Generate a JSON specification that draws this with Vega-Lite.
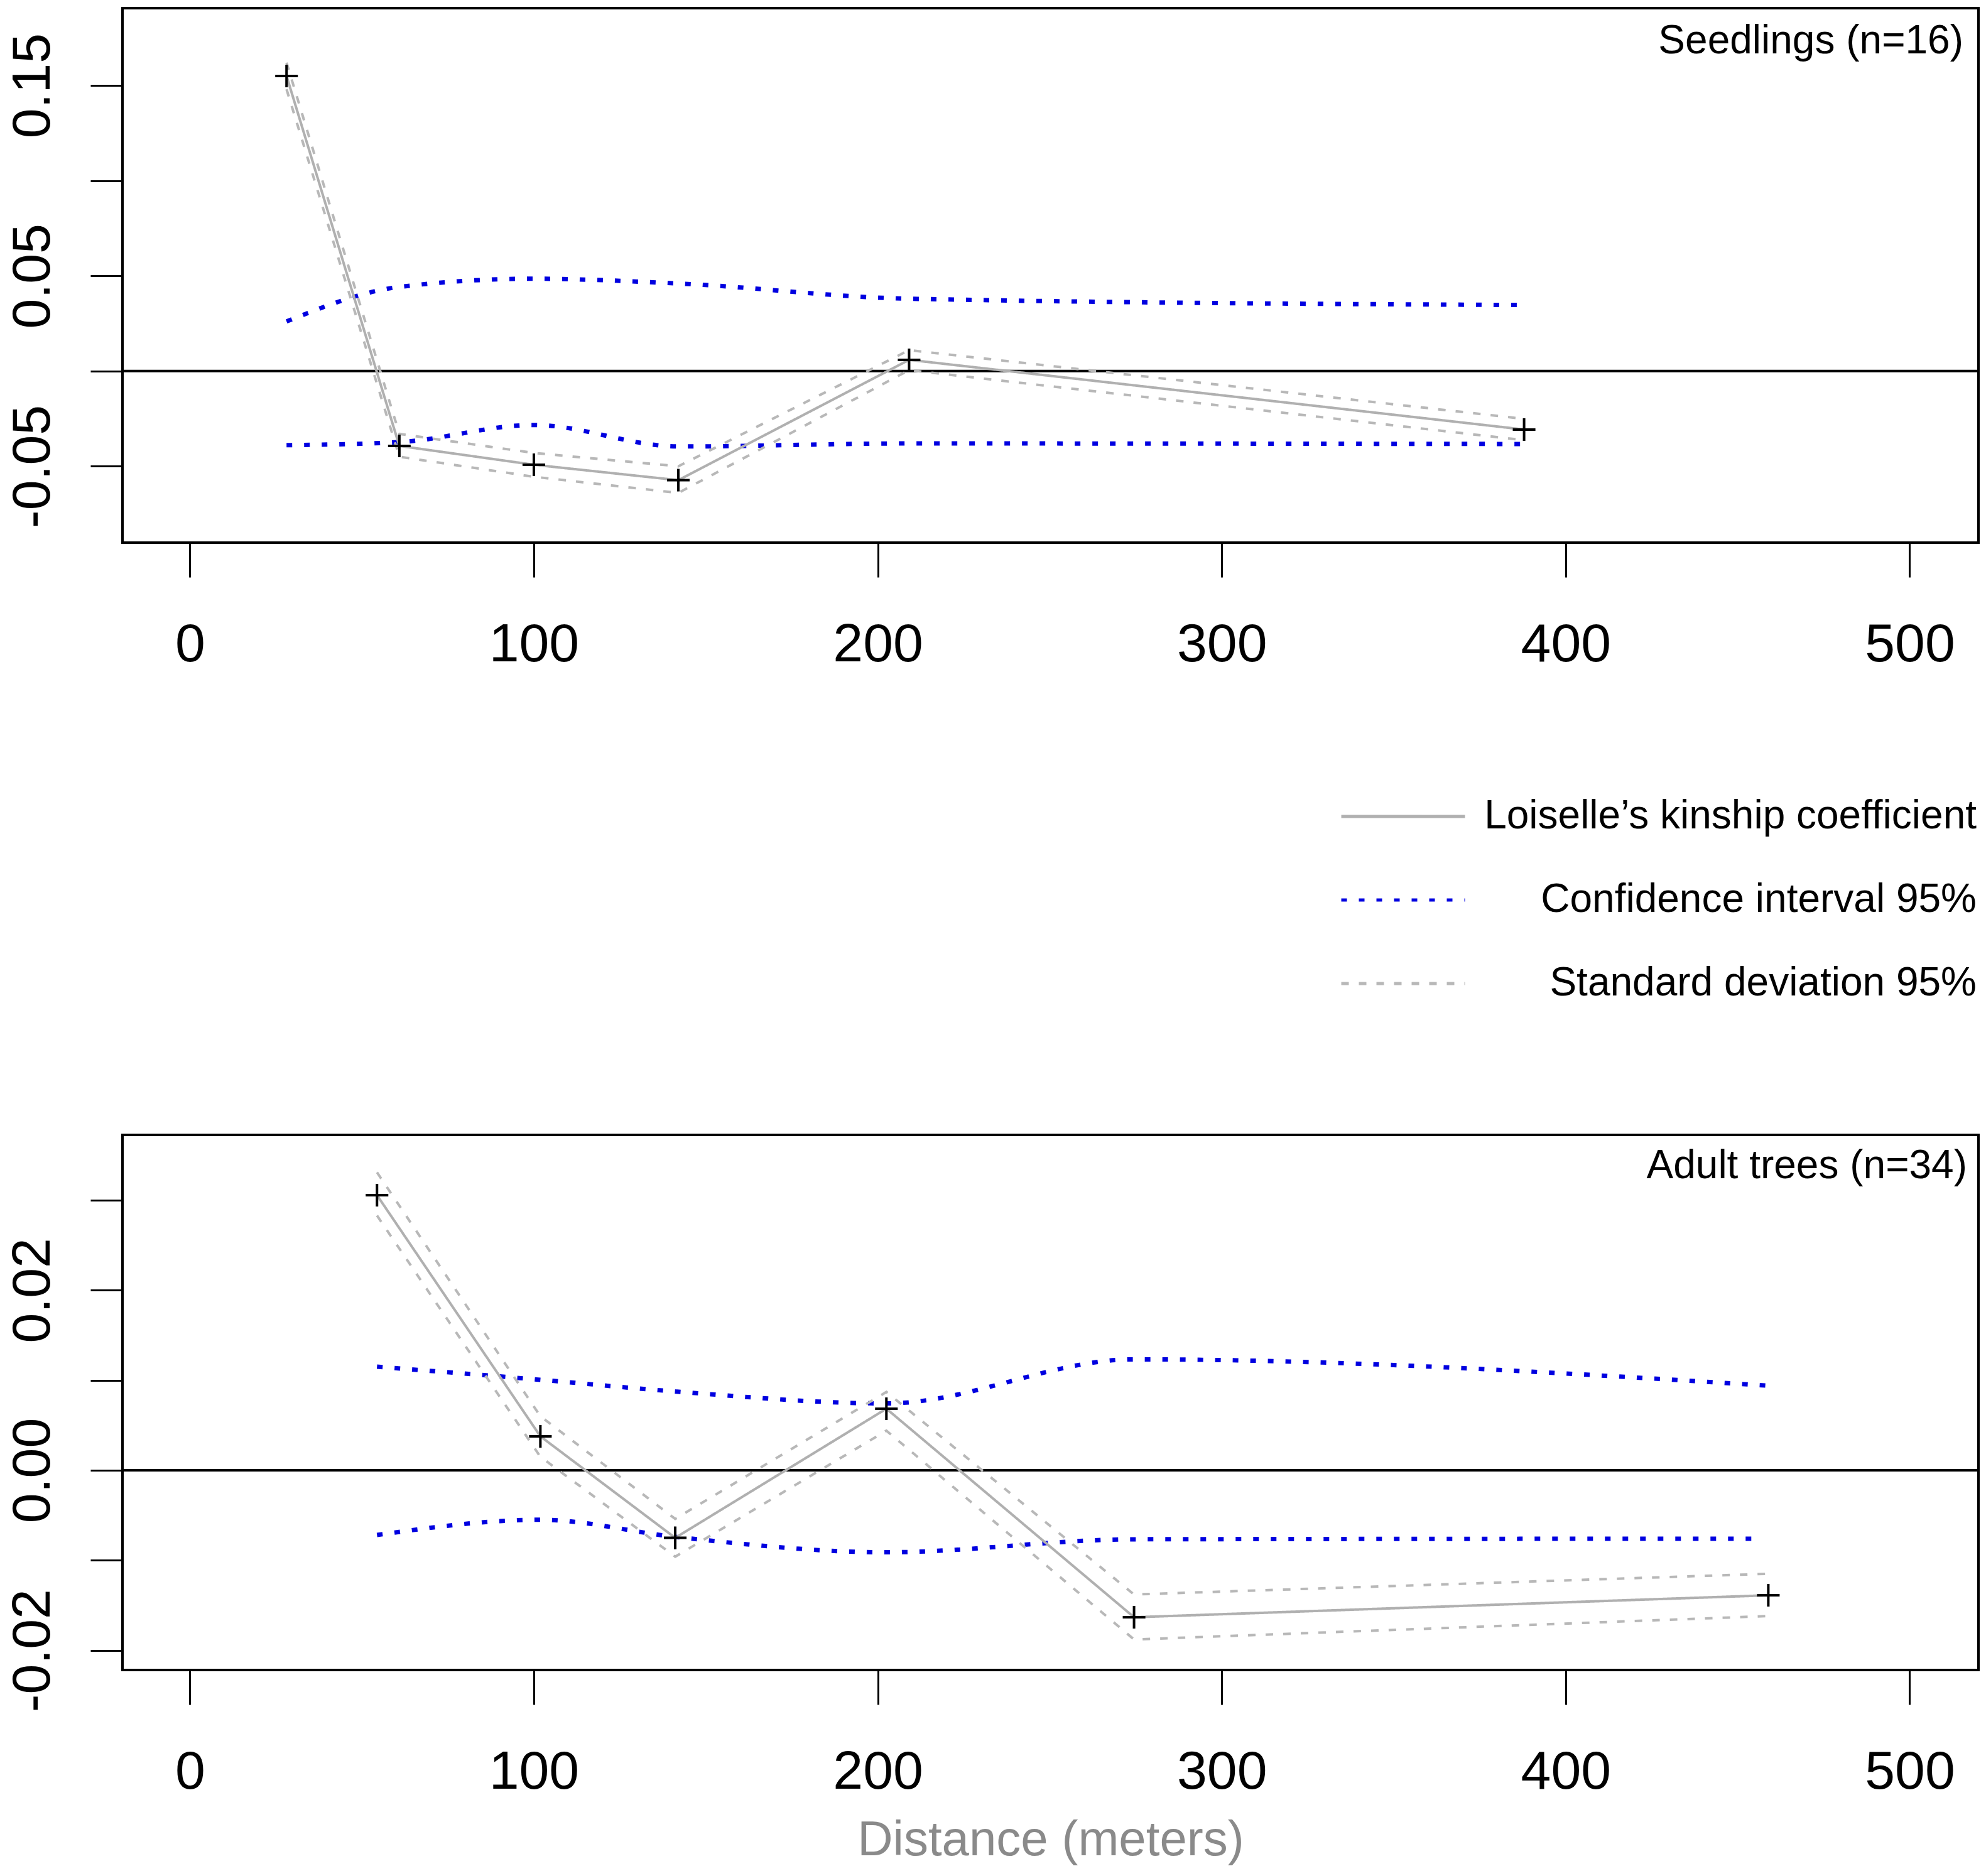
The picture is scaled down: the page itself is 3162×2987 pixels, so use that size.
{
  "$schema": "https://vega.github.io/schema/vega-lite/v6.json",
  "padding": {"left": 6, "top": 11, "right": 0, "bottom": 0},
  "background": "white",
  "config": {
    "font": "Liberation Sans",
    "view": {"stroke": "black", "strokeWidth": 4},
    "axis": {"grid": false, "domain": false, "tickColor": "black", "tickWidth": 3, "labelColor": "black", "labelFont": "Liberation Sans", "labelFontSize": 86, "titleFont": "Liberation Sans", "labelOverlap": false, "labelFlush": false, "labelLimit": 0},
    "axisX": {"tickSize": 55, "labelBaseline": "alphabetic", "labelPadding": 133, "labelAngle": 0},
    "axisY": {"tickSize": 51, "labelAngle": 270, "labelAlign": "center", "labelBaseline": "alphabetic", "labelPadding": 66}
  },
  "data": {"values": [
    {"panel": "S", "series": "Loiselle’s kinship coefficient", "line": "main", "d": 28.1, "v": 0.155},
    {"panel": "S", "series": "Loiselle’s kinship coefficient", "line": "main", "d": 60.9, "v": -0.0393},
    {"panel": "S", "series": "Loiselle’s kinship coefficient", "line": "main", "d": 100.0, "v": -0.0492},
    {"panel": "S", "series": "Loiselle’s kinship coefficient", "line": "main", "d": 142.0, "v": -0.0573},
    {"panel": "S", "series": "Loiselle’s kinship coefficient", "line": "main", "d": 209.1, "v": 0.0059},
    {"panel": "S", "series": "Loiselle’s kinship coefficient", "line": "main", "d": 387.9, "v": -0.0307},
    {"panel": "S", "series": "Standard deviation 95%", "line": "sdu", "d": 28.1, "v": 0.162},
    {"panel": "S", "series": "Standard deviation 95%", "line": "sdu", "d": 60.9, "v": -0.0330},
    {"panel": "S", "series": "Standard deviation 95%", "line": "sdu", "d": 100.0, "v": -0.0430},
    {"panel": "S", "series": "Standard deviation 95%", "line": "sdu", "d": 142.0, "v": -0.0500},
    {"panel": "S", "series": "Standard deviation 95%", "line": "sdu", "d": 209.1, "v": 0.0110},
    {"panel": "S", "series": "Standard deviation 95%", "line": "sdu", "d": 387.9, "v": -0.0251},
    {"panel": "S", "series": "Standard deviation 95%", "line": "sdl", "d": 28.1, "v": 0.148},
    {"panel": "S", "series": "Standard deviation 95%", "line": "sdl", "d": 60.9, "v": -0.0450},
    {"panel": "S", "series": "Standard deviation 95%", "line": "sdl", "d": 100.0, "v": -0.0555},
    {"panel": "S", "series": "Standard deviation 95%", "line": "sdl", "d": 142.0, "v": -0.0640},
    {"panel": "S", "series": "Standard deviation 95%", "line": "sdl", "d": 209.1, "v": 0.0005},
    {"panel": "S", "series": "Standard deviation 95%", "line": "sdl", "d": 387.9, "v": -0.0363},
    {"panel": "S", "series": "Confidence interval 95%", "line": "ciu", "d": 28.1, "v": 0.0261},
    {"panel": "S", "series": "Confidence interval 95%", "line": "ciu", "d": 60.9, "v": 0.0442},
    {"panel": "S", "series": "Confidence interval 95%", "line": "ciu", "d": 100.0, "v": 0.0485},
    {"panel": "S", "series": "Confidence interval 95%", "line": "ciu", "d": 142.0, "v": 0.0460},
    {"panel": "S", "series": "Confidence interval 95%", "line": "ciu", "d": 209.1, "v": 0.0380},
    {"panel": "S", "series": "Confidence interval 95%", "line": "ciu", "d": 387.9, "v": 0.0347},
    {"panel": "S", "series": "Confidence interval 95%", "line": "cil", "d": 28.1, "v": -0.0389},
    {"panel": "S", "series": "Confidence interval 95%", "line": "cil", "d": 60.9, "v": -0.0373},
    {"panel": "S", "series": "Confidence interval 95%", "line": "cil", "d": 100.0, "v": -0.0283},
    {"panel": "S", "series": "Confidence interval 95%", "line": "cil", "d": 142.0, "v": -0.0396},
    {"panel": "S", "series": "Confidence interval 95%", "line": "cil", "d": 209.1, "v": -0.0380},
    {"panel": "S", "series": "Confidence interval 95%", "line": "cil", "d": 387.9, "v": -0.0383},
    {"panel": "A", "series": "Loiselle’s kinship coefficient", "line": "main", "d": 54.4, "v": 0.03056},
    {"panel": "A", "series": "Loiselle’s kinship coefficient", "line": "main", "d": 101.9, "v": 0.00377},
    {"panel": "A", "series": "Loiselle’s kinship coefficient", "line": "main", "d": 141.1, "v": -0.00751},
    {"panel": "A", "series": "Loiselle’s kinship coefficient", "line": "main", "d": 202.5, "v": 0.00684},
    {"panel": "A", "series": "Loiselle’s kinship coefficient", "line": "main", "d": 274.5, "v": -0.01633},
    {"panel": "A", "series": "Loiselle’s kinship coefficient", "line": "main", "d": 458.9, "v": -0.01389},
    {"panel": "A", "series": "Standard deviation 95%", "line": "sdu", "d": 54.4, "v": 0.0331},
    {"panel": "A", "series": "Standard deviation 95%", "line": "sdu", "d": 101.9, "v": 0.0060},
    {"panel": "A", "series": "Standard deviation 95%", "line": "sdu", "d": 141.1, "v": -0.0054},
    {"panel": "A", "series": "Standard deviation 95%", "line": "sdu", "d": 202.5, "v": 0.0087},
    {"panel": "A", "series": "Standard deviation 95%", "line": "sdu", "d": 274.5, "v": -0.0138},
    {"panel": "A", "series": "Standard deviation 95%", "line": "sdu", "d": 458.9, "v": -0.0115},
    {"panel": "A", "series": "Standard deviation 95%", "line": "sdl", "d": 54.4, "v": 0.0283},
    {"panel": "A", "series": "Standard deviation 95%", "line": "sdl", "d": 101.9, "v": 0.0015},
    {"panel": "A", "series": "Standard deviation 95%", "line": "sdl", "d": 141.1, "v": -0.0096},
    {"panel": "A", "series": "Standard deviation 95%", "line": "sdl", "d": 202.5, "v": 0.0044},
    {"panel": "A", "series": "Standard deviation 95%", "line": "sdl", "d": 274.5, "v": -0.0188},
    {"panel": "A", "series": "Standard deviation 95%", "line": "sdl", "d": 458.9, "v": -0.0162},
    {"panel": "A", "series": "Confidence interval 95%", "line": "ciu", "d": 54.4, "v": 0.01151},
    {"panel": "A", "series": "Confidence interval 95%", "line": "ciu", "d": 101.9, "v": 0.01005},
    {"panel": "A", "series": "Confidence interval 95%", "line": "ciu", "d": 141.1, "v": 0.00875},
    {"panel": "A", "series": "Confidence interval 95%", "line": "ciu", "d": 202.5, "v": 0.00743},
    {"panel": "A", "series": "Confidence interval 95%", "line": "ciu", "d": 274.5, "v": 0.01232},
    {"panel": "A", "series": "Confidence interval 95%", "line": "ciu", "d": 458.9, "v": 0.0094},
    {"panel": "A", "series": "Confidence interval 95%", "line": "cil", "d": 54.4, "v": -0.00719},
    {"panel": "A", "series": "Confidence interval 95%", "line": "cil", "d": 101.9, "v": -0.0055},
    {"panel": "A", "series": "Confidence interval 95%", "line": "cil", "d": 141.1, "v": -0.0074},
    {"panel": "A", "series": "Confidence interval 95%", "line": "cil", "d": 202.5, "v": -0.00911},
    {"panel": "A", "series": "Confidence interval 95%", "line": "cil", "d": 274.5, "v": -0.00767},
    {"panel": "A", "series": "Confidence interval 95%", "line": "cil", "d": 456.0, "v": -0.0076}
  ]},
  "spacing": 943,
  "bounds": "flush",
  "resolve": {
    "scale": {"x": "independent", "y": "independent", "color": "independent", "strokeDash": "independent"},
    "legend": {"color": "independent", "strokeDash": "independent"}
  },
  "vconcat": [
    {
      "width": 2955,
      "height": 851,
      "layer": [
        {
          "data": {"values": [{"y0": 0}]},
          "mark": {"type": "rule", "color": "black", "strokeWidth": 4},
          "encoding": {"y": {"field": "y0", "type": "quantitative", "scale": {"domain": [-0.0901, 0.1906], "nice": false, "zero": false}}}
        },
        {
          "transform": [{"filter": "datum.panel === 'S' && datum.series === 'Confidence interval 95%'"}],
          "mark": {"type": "line", "interpolate": "monotone", "strokeWidth": 7},
          "encoding": {
            "x": {"field": "d", "type": "quantitative", "scale": {"domain": [-19.6, 520.0], "nice": false, "zero": false}, "axis": {"values": [0, 100, 200, 300, 400, 500], "title": null}},
            "y": {"field": "v", "type": "quantitative", "scale": {"domain": [-0.0901, 0.1906], "nice": false, "zero": false}, "axis": {"values": [-0.05, 0, 0.05, 0.1, 0.15], "title": null, "labelExpr": "abs(datum.value) < 1e-9 || abs(datum.value - 0.1) < 1e-9 ? '' : replace(format(datum.value, '.2f'), '−', '-')"}},
            "color": {"field": "series", "type": "nominal", "scale": {"domain": ["Loiselle’s kinship coefficient", "Confidence interval 95%", "Standard deviation 95%"], "range": ["#b0b0b0", "#0000e0", "#b8b8b8"]},
              "legend": {"orient": "none", "legendX": 1938, "legendY": 1186, "title": null, "symbolType": "stroke", "symbolSize": 38809, "symbolStrokeWidth": 5, "labelFontSize": 64, "labelFont": "Liberation Sans", "labelColor": "black", "labelAlign": "right", "labelOffset": 812, "labelLimit": 0, "rowPadding": -27, "padding": 0, "labelBaseline": "middle",
                "encode": {"symbols": {"update": {"stroke": {"signal": "datum.index === 1 ? '#4a7de8' : '#b0b0b0'"}, "strokeDash": {"signal": "datum.index === 0 ? [1, 0] : [34, 15]"}}}}}},
            "strokeDash": {"field": "series", "type": "nominal", "scale": {"domain": ["Loiselle’s kinship coefficient", "Confidence interval 95%", "Standard deviation 95%"], "range": [[1, 0], [9, 19], [12, 16]]}, "legend": null},
            "detail": {"field": "line", "type": "nominal"}
          }
        },
        {
          "transform": [{"filter": "datum.panel === 'S' && datum.series !== 'Confidence interval 95%'"}],
          "mark": {"type": "line", "strokeWidth": 4},
          "encoding": {
            "x": {"field": "d", "type": "quantitative"},
            "y": {"field": "v", "type": "quantitative"},
            "color": {"field": "series", "type": "nominal"},
            "strokeDash": {"field": "series", "type": "nominal"},
            "detail": {"field": "line", "type": "nominal"}
          }
        },
        {
          "transform": [{"filter": "datum.panel === 'S' && datum.line === 'main'"}],
          "mark": {"type": "point", "shape": "M-1,0H1M0,-1V1", "size": 1300, "stroke": "black", "strokeWidth": 4, "filled": false, "opacity": 1},
          "encoding": {
            "x": {"field": "d", "type": "quantitative"},
            "y": {"field": "v", "type": "quantitative"}
          }
        },
        {
          "data": {"values": [{"label": "Seedlings (n=16)", "lx": 520.0, "ly": 0.1906}]},
          "mark": {"type": "text", "align": "right", "baseline": "alphabetic", "dx": -24, "dy": 72, "fontSize": 64, "font": "Liberation Sans", "color": "black"},
          "encoding": {
            "x": {"field": "lx", "type": "quantitative"},
            "y": {"field": "ly", "type": "quantitative"},
            "text": {"field": "label"}
          }
        }
      ]
    },
    {
      "width": 2955,
      "height": 852,
      "layer": [
        {
          "data": {"values": [{"y0": 0}]},
          "mark": {"type": "rule", "color": "black", "strokeWidth": 4},
          "encoding": {"y": {"field": "y0", "type": "quantitative", "scale": {"domain": [-0.02219, 0.03726], "nice": false, "zero": false}}}
        },
        {
          "transform": [{"filter": "datum.panel === 'A' && datum.series === 'Confidence interval 95%'"}],
          "mark": {"type": "line", "interpolate": "monotone", "strokeWidth": 7},
          "encoding": {
            "x": {"field": "d", "type": "quantitative", "scale": {"domain": [-19.6, 520.0], "nice": false, "zero": false}, "axis": {"values": [0, 100, 200, 300, 400, 500], "title": "Distance (meters)", "titleColor": "#8a8a8a", "titleFontSize": 78, "titleFontWeight": "normal", "titleBaseline": "alphabetic", "titlePadding": 94}},
            "y": {"field": "v", "type": "quantitative", "scale": {"domain": [-0.02219, 0.03726], "nice": false, "zero": false}, "axis": {"values": [-0.02, -0.01, 0, 0.01, 0.02, 0.03], "title": null, "labelExpr": "abs(datum.value) < 1e-9 || abs(abs(datum.value) - 0.02) < 1e-9 ? replace(format(datum.value, '.2f'), '−', '-') : ''"}},
            "color": {"field": "series", "type": "nominal", "scale": {"domain": ["Loiselle’s kinship coefficient", "Confidence interval 95%", "Standard deviation 95%"], "range": ["#b0b0b0", "#0000e0", "#b8b8b8"]}, "legend": null},
            "strokeDash": {"field": "series", "type": "nominal", "scale": {"domain": ["Loiselle’s kinship coefficient", "Confidence interval 95%", "Standard deviation 95%"], "range": [[1, 0], [9, 19], [12, 16]]}, "legend": null},
            "detail": {"field": "line", "type": "nominal"}
          }
        },
        {
          "transform": [{"filter": "datum.panel === 'A' && datum.series !== 'Confidence interval 95%'"}],
          "mark": {"type": "line", "strokeWidth": 4},
          "encoding": {
            "x": {"field": "d", "type": "quantitative"},
            "y": {"field": "v", "type": "quantitative"},
            "color": {"field": "series", "type": "nominal"},
            "strokeDash": {"field": "series", "type": "nominal"},
            "detail": {"field": "line", "type": "nominal"}
          }
        },
        {
          "transform": [{"filter": "datum.panel === 'A' && datum.line === 'main'"}],
          "mark": {"type": "point", "shape": "M-1,0H1M0,-1V1", "size": 1300, "stroke": "black", "strokeWidth": 4, "filled": false, "opacity": 1},
          "encoding": {
            "x": {"field": "d", "type": "quantitative"},
            "y": {"field": "v", "type": "quantitative"}
          }
        },
        {
          "data": {"values": [{"label": "Adult trees (n=34)", "lx": 520.0, "ly": 0.03726}]},
          "mark": {"type": "text", "align": "right", "baseline": "alphabetic", "dx": -18, "dy": 69, "fontSize": 64, "font": "Liberation Sans", "color": "black"},
          "encoding": {
            "x": {"field": "lx", "type": "quantitative"},
            "y": {"field": "ly", "type": "quantitative"},
            "text": {"field": "label"}
          }
        }
      ]
    }
  ]
}
